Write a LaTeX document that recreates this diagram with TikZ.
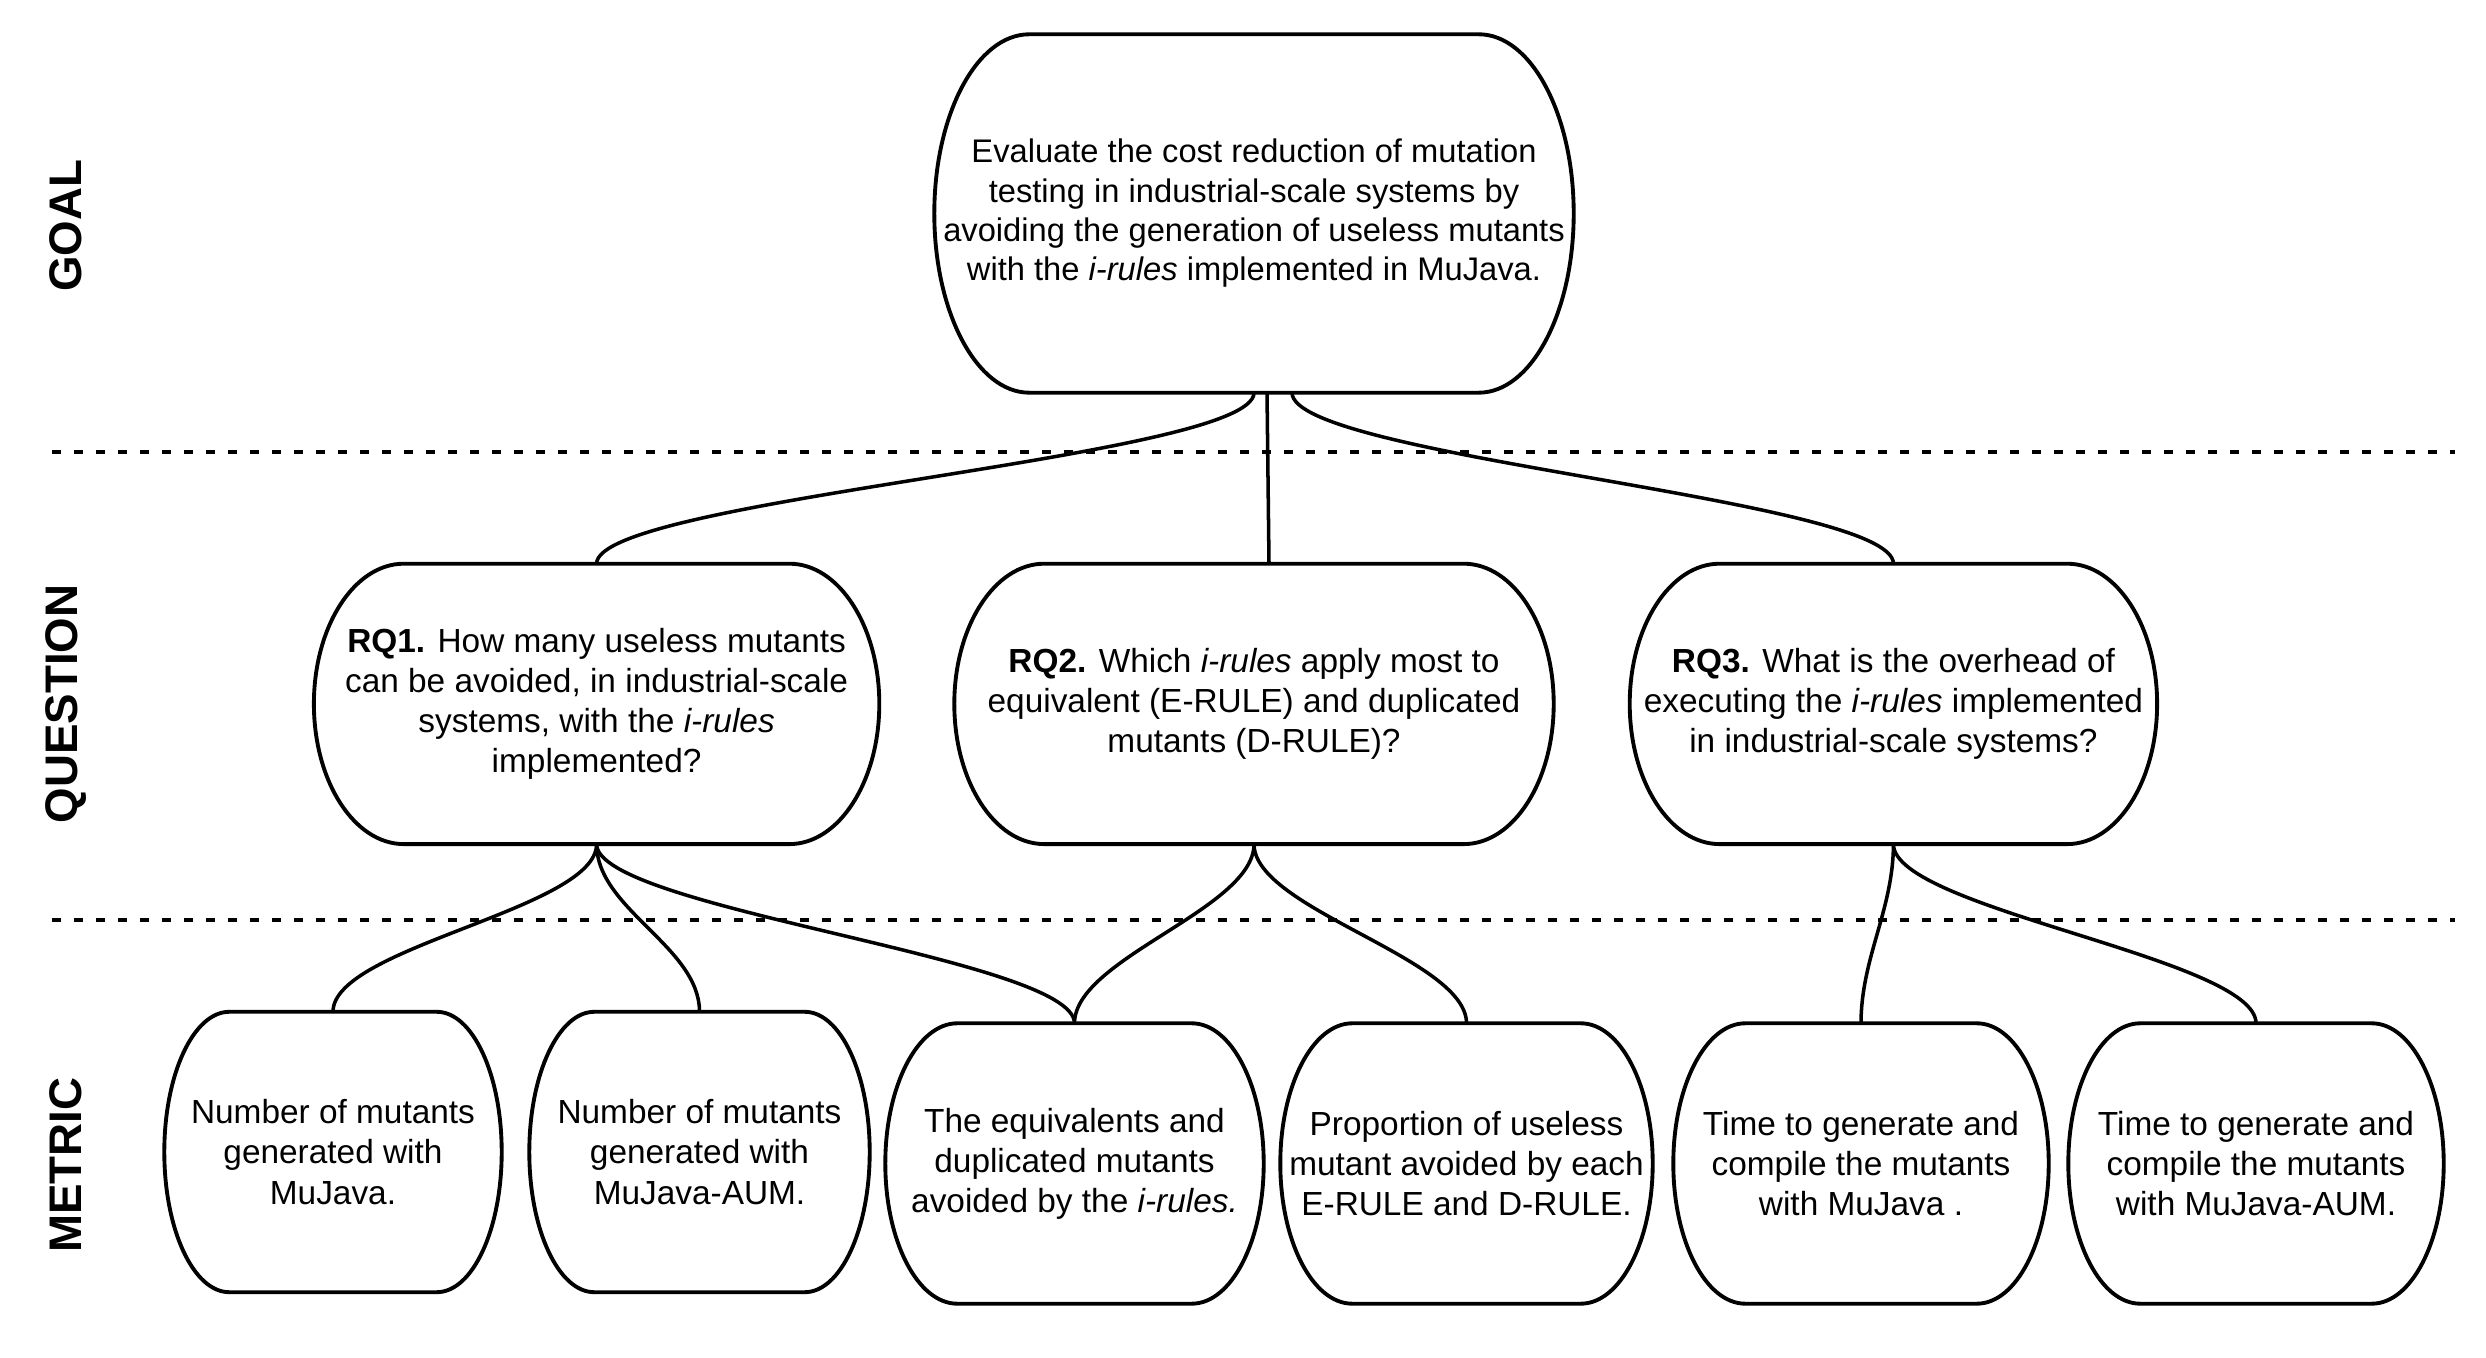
\documentclass[tikz,border=0pt]{standalone}
\usepackage{fontspec}
\setmainfont{Liberation Sans}
\usepackage{tikz}
\usetikzlibrary{positioning,calc}

\begin{document}
\begin{tikzpicture}[
    every node/.style={font=\fontsize{9.5}{11.4}\selectfont,align=center},
    barrel/.style={inner sep=0pt,minimum height=2.79cm},
    outline/.style={line width=1.1pt},
    link/.style={line width=1pt},
    layer/.style={rotate=90,font=\fontsize{13}{15}\selectfont\bfseries},
    sep/.style={line width=1.1pt,dash pattern=on 0.09cm off 0.13cm}
]
\useasboundingbox (0,0) rectangle (24.86,-13.58);

% goal
\node[barrel,minimum width=6.38cm,minimum height=3.57cm,font=\fontsize{9.3}{11.2}\selectfont] (goal) at (12.54,-2.135)
  {Evaluate the cost reduction of mutation\\testing in industrial-scale systems by\\avoiding the generation of useless mutants\\with the \textit{i-rules} implemented in MuJava.};

% questions
\node[barrel,minimum width=5.98cm,below=1.71cm of goal] (rq2)
  {\textbf{RQ2.} Which \textit{i-rules} apply most to\\equivalent (E-RULE) and duplicated\\mutants (D-RULE)?};
\node[barrel,minimum width=5.64cm,left=0.75cm of rq2] (rq1)
  {\textbf{RQ1.} How many useless mutants\\can be avoided, in industrial-scale\\systems, with the \textit{i-rules}\\implemented?};
\node[barrel,minimum width=5.26cm,right=0.76cm of rq2] (rq3)
  {\textbf{RQ3.} What is the overhead of\\executing the \textit{i-rules} implemented\\in industrial-scale systems?};

% metrics
\node[barrel,minimum width=3.36cm] (m1) at (3.33,-11.52)
  {Number of mutants\\generated with\\MuJava.};
\node[barrel,minimum width=3.39cm] (m2) at (6.995,-11.52)
  {Number of mutants\\generated with\\MuJava-AUM.};
\node[barrel,minimum width=3.77cm] (m3) at (10.745,-11.635)
  {The equivalents and\\duplicated mutants\\avoided by the \textit{i-rules.}};
\node[barrel,minimum width=3.71cm] (m4) at (14.665,-11.635)
  {Proportion of useless\\mutant avoided by each\\E-RULE and D-RULE.};
\node[barrel,minimum width=3.74cm] (m5) at (18.61,-11.635)
  {Time to generate and\\compile the mutants\\with MuJava .};
\node[barrel,minimum width=3.74cm] (m6) at (22.56,-11.635)
  {Time to generate and\\compile the mutants\\with MuJava-AUM.};

% barrel outlines: straight top and bottom, half-ellipse sides
\foreach \nd/\ins in {goal/0.95,rq1/0.9,rq2/0.9,rq3/0.9,m1/0.65,m2/0.65,m3/0.72,m4/0.72,m5/0.72,m6/0.72}
  \draw[outline] let \p1=(\nd.north west), \p2=(\nd.south east), \n1={(\y1-\y2)/2} in
    (\x1+\ins cm,\y1) -- (\x2-\ins cm,\y1)
    arc[start angle=90,end angle=-90,x radius=\ins cm,y radius=\n1]
    -- (\x1+\ins cm,\y2)
    arc[start angle=270,end angle=90,x radius=\ins cm,y radius=\n1] -- cycle;

% layer labels and separators
\node[layer] (lgoal) at (0.66,-2.26) {GOAL};
\node[layer] (lquestion) at (0.66,-7.04) {QUESTION};
\node[layer] (lmetric) at (0.66,-11.65) {METRIC};
\draw[sep] (0.52,-4.52) -- (24.55,-4.52);
\draw[sep] (0.52,-9.20) -- (24.55,-9.20);

% goal to questions
\draw[link] (goal.south) .. controls +(0,-0.65) and +(0,0.65) .. (rq1.north);
\draw[link] ([xshift=1.3mm]goal.south) -- ([xshift=1.5mm]rq2.north);
\draw[link] ([xshift=3.8mm]goal.south) .. controls +(0,-0.65) and +(0,0.65) .. (rq3.north);

% questions to metrics
\draw[link] (rq1.south) .. controls +(0,-0.65) and +(0,0.65) .. (m1.north);
\draw[link] (rq1.south) .. controls +(0,-0.65) and +(0,0.65) .. (m2.north);
\draw[link] (rq1.south) .. controls +(0,-0.65) and +(0,0.65) .. (m3.north);
\draw[link] (rq2.south) .. controls +(0,-0.65) and +(0,0.65) .. (m3.north);
\draw[link] (rq2.south) .. controls +(0,-0.65) and +(0,0.65) .. (m4.north);
\draw[link] (rq3.south) .. controls +(0,-0.65) and +(0,0.65) .. (m5.north);
\draw[link] (rq3.south) .. controls +(0,-0.65) and +(0,0.65) .. (m6.north);
\end{tikzpicture}
\end{document}
